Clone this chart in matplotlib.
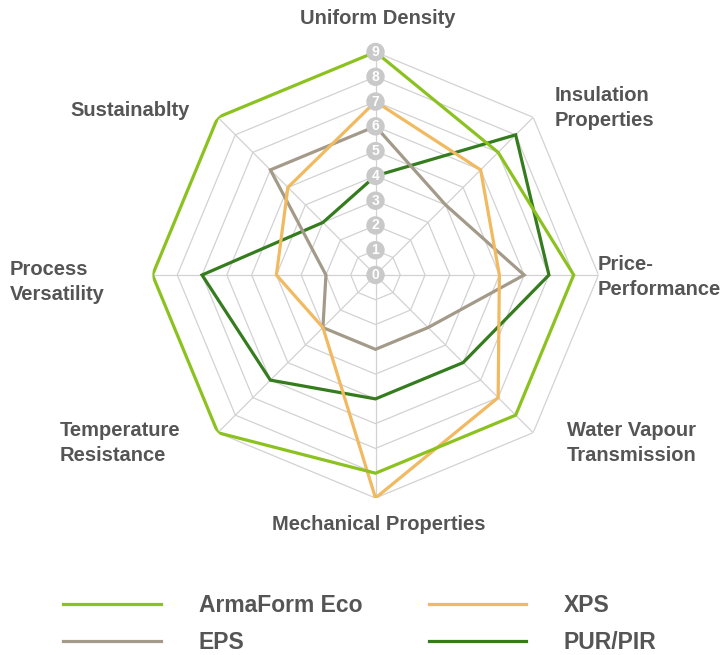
import numpy as np
import matplotlib
matplotlib.use('Agg')
import matplotlib.pyplot as plt

# ---------------- data ----------------
categories = ['Uniform Density', 'Insulation\nProperties', 'Price-\nPerformance',
              'Water Vapour\nTransmission', 'Mechanical Properties',
              'Temperature\nResistance', 'Process\nVersatility', 'Sustainablty']
series_names = ['ArmaForm Eco', 'EPS', 'XPS', 'PUR/PIR']
armaform = [9, 7, 8, 8, 8, 9, 9, 9]
eps = [6, 4, 6, 3, 3, 3, 2, 6]
xps = [7, 6, 5, 7, 9, 3, 4, 5]
pur = [4, 8, 7, 5, 5, 6, 7, 3]
tick_values = [0, 1, 2, 3, 4, 5, 6, 7, 8, 9]

# ---------------- style ----------------
colors = {'ArmaForm Eco': '#8cc21f', 'EPS': '#a39a8a', 'XPS': '#f1b960', 'PUR/PIR': '#347c1d'}
zorders = {'ArmaForm Eco': 6, 'XPS': 5, 'EPS': 4, 'PUR/PIR': 3}
label_color = '#555555'
grid_color = '#d2d2d2'
FONT = 'Liberation Sans'

W, H = 726, 655
fig = plt.figure(figsize=(W / 100, H / 100), dpi=100)
fig.patch.set_facecolor('white')

cx, cy, R = 375.5, 275, 223
ax = fig.add_axes([(cx - R) / W, (H - cy - R) / H, 2 * R / W, 2 * R / H], projection='polar')
ax.set_theta_offset(np.pi / 2)
ax.set_theta_direction(-1)
ax.set_ylim(0, max(tick_values))
ax.grid(False)
ax.spines['polar'].set_visible(False)
ax.set_xticks([])
ax.set_yticks([])
ax.patch.set_alpha(0)

n = len(categories)
angles = np.linspace(0, 2 * np.pi, n, endpoint=False)
closed = np.concatenate([angles, angles[:1]])

# octagonal grid rings and spokes
for t in tick_values[1:]:
    ax.plot(closed, [t] * (n + 1), color=grid_color, lw=0.9, zorder=1)
for a in angles:
    ax.plot([a, a], [0, max(tick_values)], color=grid_color, lw=0.9, zorder=1)

series = {'ArmaForm Eco': armaform, 'EPS': eps, 'XPS': xps, 'PUR/PIR': pur}
handles = []
for name in series_names:
    vals = series[name]
    line, = ax.plot(closed, list(vals) + [vals[0]], color=colors[name], lw=2.3,
                    zorder=zorders[name], label=name, solid_joinstyle='miter')
    handles.append(line)

# tick labels in grey circles on the top axis
for t in tick_values:
    ax.text(0, t, str(t), ha='center', va='center', fontsize=10, fontweight='bold',
            color='white', family=FONT, zorder=10,
            bbox=dict(boxstyle='circle,pad=0.16', fc='#c9c9c9', ec='none'))

# category labels
label_pos = [
    (378, 19, 'center'), (555, 108, 'left'), (598, 277, 'left'), (567, 443, 'left'),
    (379, 524, 'center'), (60, 443, 'left'), (10, 282, 'left'), (70, 110, 'left'),
]
for text, (x, y, ha) in zip(categories, label_pos):
    fig.text(x / W, 1 - y / H, text, ha=ha, va='center', fontsize=14.5,
             fontweight='bold', color=label_color, family=FONT, linespacing=1.35)

leg = fig.legend(handles=handles, loc='center', bbox_to_anchor=(360 / W, 1 - 624 / H),
                 ncol=2, frameon=False, handlelength=4.25, handletextpad=1.65,
                 columnspacing=2.9, labelspacing=0.65,
                 prop={'family': FONT, 'weight': 'bold', 'size': 16.5})
for txt in leg.get_texts():
    txt.set_color(label_color)
for lh in leg.get_lines():
    lh.set_linewidth(2.3)

fig.savefig('out.png', dpi=100)
